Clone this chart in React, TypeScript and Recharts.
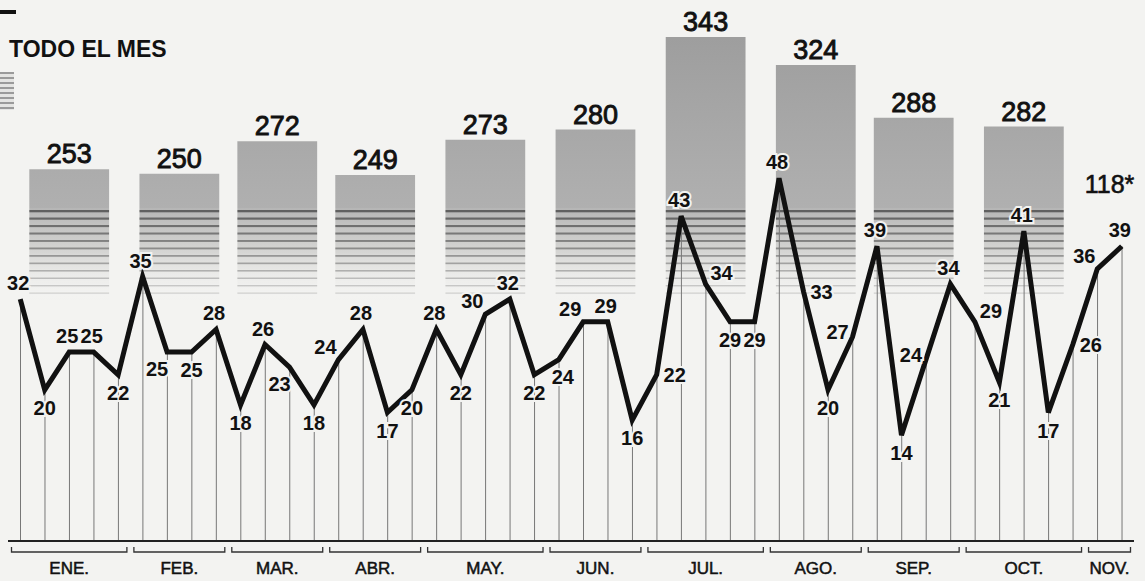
import React from 'react'
import {
  ComposedChart,
  Line,
  Bar,
  XAxis,
  YAxis,
  ReferenceArea,
  ReferenceDot,
  LabelList,
} from 'recharts'

// Months and how many weekly readings fall inside each one
const MONTHS = ['ENE.', 'FEB.', 'MAR.', 'ABR.', 'MAY.', 'JUN.', 'JUL.', 'AGO.', 'SEP.', 'OCT.', 'NOV.']
const WEEKS_PER_MONTH = [5, 4, 4, 4, 5, 4, 5, 4, 4, 5, 2]

// Monthly totals ("TODO EL MES"); November is only partial
const MONTH_TOTALS: (number | null)[] = [253, 250, 272, 249, 273, 280, 343, 324, 288, 282, null]
const NOV_PARTIAL = '118*'

// Weekly values, in order
const WEEKLY = [
  32, 20, 25, 25, 22,
  35, 25, 25, 28,
  18, 26, 23, 18,
  24, 28, 17, 20,
  28, 22, 30, 32, 22,
  24, 29, 29, 16,
  22, 43, 34, 29, 29,
  48, 33, 20, 27,
  39, 14, 24, 34,
  29, 21, 41, 17, 26,
  36, 39,
]

// Where each weekly label sits relative to its point (style only)
const LABEL_POS = [
  't', 'b', 't', 't', 'b',
  't', 'bl', 'b', 't',
  'b', 't', 'bl', 'b',
  'tl', 't', 'b', 'b',
  't', 'b', 'tl', 't', 'b',
  'br', 'tl', 't', 'b',
  'r', 't', 'tr', 'b', 'b',
  't', 'r', 'b', 'l',
  't', 'b', 'l', 't',
  'tr', 'b', 't', 'b', 'r',
  'tl', 't',
]

const OFFSETS: Record<string, [number, number]> = {
  t: [-2, -16],
  b: [0, 18],
  bl: [-10, 17],
  br: [4, 17],
  tl: [-13, -13],
  tr: [16, -11],
  l: [-15, -5],
  r: [18, 0],
}

const WIDTH = 1145
const HEIGHT = 581
const MARGIN = { top: 12, right: 11, bottom: 0, left: 8 }
const WEEK_PX = (WIDTH - MARGIN.left - MARGIN.right) / WEEKLY.length
const BAR_HALF = 1.63 // monthly bar half width, in weeks
const NOV_LABEL_LEVEL = 243
const PAPER = '#f3f3f1'
const FONT = "'Liberation Sans', Arial, sans-serif"

const weekData = WEEKLY.map((v, w) => ({ w, v }))

const monthStarts = WEEKS_PER_MONTH.map((_, i) =>
  WEEKS_PER_MONTH.slice(0, i).reduce((a, b) => a + b, 0)
)
const MONTH_CENTERS = monthStarts.map((s, i) => s + (WEEKS_PER_MONTH[i] - 1) / 2)

function WeekLabel(props: any) {
  const { x, y, value, index } = props
  if (x === undefined || y === undefined) return null
  const [dx, dy] = OFFSETS[LABEL_POS[index]] ?? [0, -16]
  return (
    <text
      x={x + dx}
      y={y + dy}
      textAnchor="middle"
      dominantBaseline="central"
      fontFamily={FONT}
      fontWeight="bold"
      fontSize={20}
      fill="#111"
      stroke={PAPER}
      strokeWidth={4}
      style={{ paintOrder: 'stroke' }}
    >
      {value}
    </text>
  )
}

function MonthTick(props: any) {
  const { x, y, payload } = props
  const i = MONTH_CENTERS.indexOf(payload.value)
  if (i < 0) return null
  const half = (WEEKS_PER_MONTH[i] * WEEK_PX) / 2 - 3.5
  return (
    <g>
      <path
        d={`M${x - half},${y + 6} v5 h${2 * half} v-5`}
        stroke="#333"
        strokeWidth={1.3}
        fill="none"
      />
      <text
        x={x}
        y={y + 33}
        textAnchor="middle"
        fontFamily={FONT}
        fontSize={17}
        fill="#111"
        stroke="#111"
        strokeWidth={0.5}
      >
        {MONTHS[i]}
      </text>
    </g>
  )
}

const STRIPES = Array.from({ length: 12 }, (_, k) => k)

export default function App() {
  return (
    <div
      style={{
        position: 'absolute',
        left: 0,
        top: 0,
        width: WIDTH,
        height: HEIGHT,
        background: PAPER,
        fontFamily: FONT,
      }}
    >
      {/* cut-off fragments at top left */}
      <div style={{ position: 'absolute', left: 0, top: 10, width: 16, height: 4, background: '#111' }} />
      <div
        style={{
          position: 'absolute',
          left: 0,
          top: 72,
          width: 14,
          height: 38,
          background:
            'repeating-linear-gradient(to bottom, #9a9a9a 0px, #9a9a9a 2px, #e4e4e2 2px, #e4e4e2 5px)',
        }}
      />
      <div
        style={{
          position: 'absolute',
          left: 9,
          top: 36,
          fontWeight: 'bold',
          fontSize: 23,
          color: '#111',
          zIndex: 2,
        }}
      >
        TODO EL MES
      </div>

      <ComposedChart width={WIDTH} height={HEIGHT} data={weekData} margin={MARGIN}>
        <defs>
          <linearGradient id="barGrad" gradientUnits="userSpaceOnUse" x1="0" y1="0" x2="0" y2="210">
            <stop offset="0" stopColor="#9a9a9a" />
            <stop offset="1" stopColor="#b0b0b0" />
          </linearGradient>
          <linearGradient id="stripeBg" gradientUnits="userSpaceOnUse" x1="0" y1="206" x2="0" y2="300">
            <stop offset="0" stopColor="#b4b4b4" />
            <stop offset="0.5" stopColor="#d6d6d4" />
            <stop offset="1" stopColor={PAPER} stopOpacity={0} />
          </linearGradient>
          <pattern id="barFill" patternUnits="userSpaceOnUse" x="0" y="0" width="8" height={HEIGHT}>
            <rect x="0" y="0" width="8" height="208" fill="url(#barGrad)" />
            <rect x="0" y="208" width="8" height="96" fill="url(#stripeBg)" />
            {STRIPES.map((k) => (
              <rect
                key={k}
                x="0"
                y={210 + k * 7.5}
                width="8"
                height={2.3 - k * 0.09}
                fill="#4a4a4a"
                fillOpacity={0.8 - k * 0.055}
              />
            ))}
          </pattern>
        </defs>

        <XAxis
          xAxisId="w"
          type="number"
          dataKey="w"
          domain={[-0.5, WEEKLY.length - 0.5]}
          ticks={MONTH_CENTERS}
          interval={0}
          tick={<MonthTick />}
          tickLine={false}
          tickSize={0}
          tickMargin={0}
          axisLine={{ stroke: '#222', strokeWidth: 2 }}
          height={40}
          allowDataOverflow
        />
        <YAxis yAxisId="v" type="number" domain={[0, 70]} allowDataOverflow hide />
        <YAxis yAxisId="m" type="number" domain={[0, 360]} allowDataOverflow hide />

        {MONTH_TOTALS.map((total, i) =>
          total == null ? null : (
            <ReferenceArea
              key={MONTHS[i]}
              xAxisId="w"
              yAxisId="m"
              x1={MONTH_CENTERS[i] - BAR_HALF}
              x2={MONTH_CENTERS[i] + BAR_HALF}
              y1={0}
              y2={total}
              fill="url(#barFill)"
              fillOpacity={1}
              stroke="none"
              ifOverflow="visible"
              label={{
                value: String(total),
                position: 'top',
                offset: 6,
                fill: '#111',
                stroke: '#111',
                strokeWidth: 0.9,
                fontSize: 27,
                fontFamily: FONT,
              }}
            />
          )
        )}

        <ReferenceDot
          xAxisId="w"
          yAxisId="m"
          x={MONTH_CENTERS[MONTHS.length - 1]}
          y={NOV_LABEL_LEVEL}
          r={0}
          fill="none"
          stroke="none"
          ifOverflow="visible"
          label={{
            value: NOV_PARTIAL,
            position: 'center',
            fill: '#111',
            stroke: '#111',
            strokeWidth: 0.6,
            fontSize: 25,
            fontFamily: FONT,
          }}
        />

        {/* thin drop lines from each weekly point */}
        <Bar xAxisId="w" yAxisId="v" dataKey="v" barSize={1} fill="#777" isAnimationActive={false} />

        <Line
          xAxisId="w"
          yAxisId="v"
          type="linear"
          dataKey="v"
          stroke="#111"
          strokeWidth={5}
          strokeLinejoin="miter"
          dot={false}
          activeDot={false}
          isAnimationActive={false}
        >
          <LabelList dataKey="v" content={<WeekLabel />} />
        </Line>
      </ComposedChart>
    </div>
  )
}
